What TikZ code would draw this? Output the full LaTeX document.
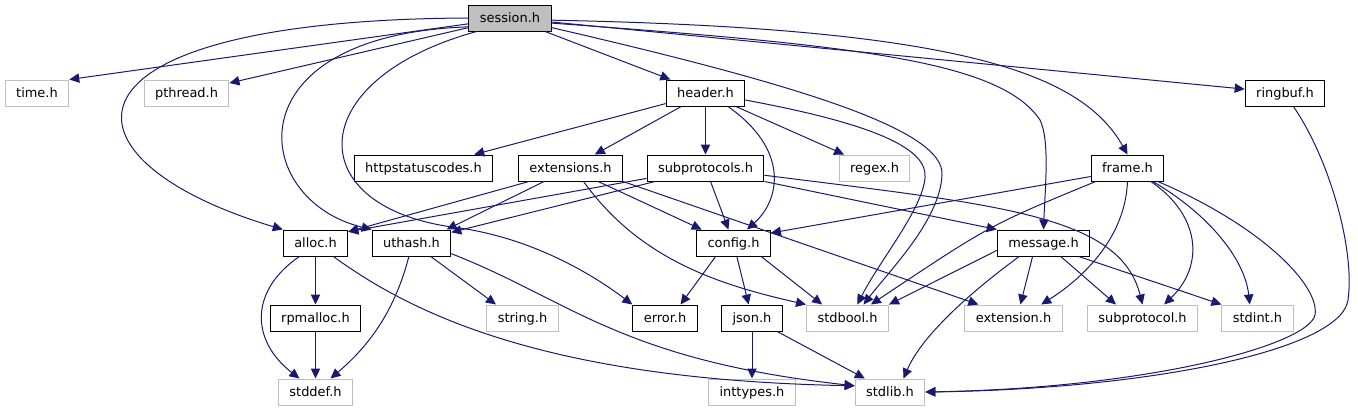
\documentclass[tikz,border=0pt]{standalone}
\usepackage{fontspec}
\setmainfont{DejaVu Sans}
\usetikzlibrary{arrows.meta}
\definecolor{edgeblue}{RGB}{25,25,112}
\definecolor{extgray}{RGB}{191,191,191}

\begin{document}
\begin{tikzpicture}[x=0.75pt, y=-0.75pt,
    file/.style={draw=black, line width=0.75pt, inner xsep=8.25pt, inner ysep=0pt,
      minimum height=19.5pt, text height=7.5pt, text depth=1.5pt,
      font=\fontsize{9.7}{11}\selectfont},
    sysfile/.style={file, draw=extgray},
    root/.style={file, fill=extgray},
    dep/.style={edgeblue, line width=0.75pt, -{Triangle[length=7.5pt,width=7pt]}}]
  \useasboundingbox (0,0) rectangle (1358,411);
  % Top
  \node[root] (session) at (510,18) {session.h};
  % Second row
  \node[sysfile] (time) at (37,93) {time.h};
  \node[sysfile] (pthread) at (186.5,93) {pthread.h};
  \node[file] (header) at (705.5,93) {header.h};
  \node[file] (ringbuf) at (1285,93) {ringbuf.h};
  % Third row
  \node[file] (httpstatus) at (423.5,168) {httpstatuscodes.h};
  \node[file] (extensions) at (570.5,168) {extensions.h};
  \node[file] (subprotocols) at (705.5,168) {subprotocols.h};
  \node[sysfile] (regex) at (874.5,168) {regex.h};
  \node[file] (frame) at (1127.5,168) {frame.h};
  % Fourth row
  \node[file] (alloc) at (315.5,243) {alloc.h};
  \node[file] (uthash) at (411.5,243) {uthash.h};
  \node[file] (config) at (733.5,243) {config.h};
  \node[file] (message) at (1043.5,243) {message.h};
  % Fifth row
  \node[file] (rpmalloc) at (315.5,318) {rpmalloc.h};
  \node[sysfile] (string) at (522.5,318) {string.h};
  \node[file] (error) at (665,318) {error.h};
  \node[file] (json) at (752,318) {json.h};
  \node[sysfile] (stdbool) at (847.5,318) {stdbool.h};
  \node[sysfile] (extension) at (1013.5,318) {extension.h};
  \node[sysfile] (subprotocol) at (1142.5,318) {subprotocol.h};
  \node[sysfile] (stdint) at (1257.5,318) {stdint.h};
  % Bottom
  \node[sysfile] (stddef) at (315.5,392) {stddef.h};
  \node[sysfile] (inttypes) at (752,392) {inttypes.h};
  \node[sysfile] (stdlib) at (890,392) {stdlib.h};

  % session.h includes
  \draw[dep] (session) -- (time.north east);
  \draw[dep] (session) -- (pthread);
  \draw[dep] (session.west) .. controls (40,20) and (50,160) .. (alloc.north west);
  \draw[dep] (session.192) .. controls (230,35) and (250,200) .. (uthash.north west);
  \draw[dep] (session.202) .. controls (300,80) and (300,210) .. (460,228)
    .. controls (540,240) and (600,280) .. (error.north west);
  \draw[dep] (session) -- (header);
  \draw[dep] (session.-13) .. controls (800,85) and (945,130) .. (942,175)
    .. controls (940,220) and (890,270) .. (stdbool.40);
  \draw[dep] (session.-7) .. controls (850,45) and (1000,60) .. (1040,120)
    .. controls (1050,140) and (1045,190) .. (message.north);
  \draw[dep] (session.-3) .. controls (950,28) and (1080,70) .. (frame.north);
  \draw[dep] (session) -- (ringbuf);

  % header.h includes
  \draw[dep] (header) -- (httpstatus);
  \draw[dep] (header) -- (extensions);
  \draw[dep] (header) -- (subprotocols);
  \draw[dep] (header) -- (regex);
  \draw[dep] (header.-31) .. controls (790,150) and (780,200) .. (config.45);
  \draw[dep] (header.-10) .. controls (880,125) and (928,150) .. (925,178)
    .. controls (922,210) and (880,260) .. (stdbool.54);

  % extensions.h / subprotocols.h
  \draw[dep] (extensions.198) -- (alloc.19);
  \draw[dep] (extensions.207) -- (uthash.21);
  \draw[dep] (extensions.-46) .. controls (640,260) and (720,285) .. (stdbool.north west);
  \draw[dep] (extensions.-26) -- (config.157);
  \draw[dep] (extensions.south east) -- (extension.159);
  \draw[dep] (subprotocols.190) -- (alloc.19);
  \draw[dep] (subprotocols.195) -- (uthash.15);
  \draw[dep] (subprotocols) -- (config);
  \draw[dep] (subprotocols.south east) -- (message.north west);
  \draw[dep] (subprotocols.-7) .. controls (1000,205) and (1120,215) .. (subprotocol.north);

  % frame.h / ringbuf.h
  \draw[dep] (frame.193) -- (config.15);
  \draw[dep] (frame.203) .. controls (990,225) .. (stdbool.30);
  \draw[dep] (frame.south) .. controls (1125,240) and (1080,280) .. (extension.26);
  \draw[dep] (frame.-30) .. controls (1200,215) and (1205,265) .. (subprotocol.32);
  \draw[dep] (frame.-28) .. controls (1210,215) and (1245,260) .. (stdint.120);
  \draw[dep] (frame.-24) .. controls (1260,225) and (1320,285) .. (1315,315)
    .. controls (1308,345) and (1150,388) .. (stdlib.east);
  \draw[dep] (ringbuf.-58) .. controls (1330,160) and (1355,250) .. (1348,300)
    .. controls (1341,350) and (1150,389) .. (stdlib.east);

  % message.h
  \draw[dep] (message.189) -- (stdbool.18);
  \draw[dep] (message.231) -- (extension.63);
  \draw[dep] (message.-38) -- (subprotocol.153);
  \draw[dep] (message.-21) -- (stdint.north west);
  \draw[dep] (message.209) .. controls (960,300) and (920,340) .. (stdlib.45);

  % config.h / json.h
  \draw[dep] (config.217) -- (error.41);
  \draw[dep] (config) -- (json);
  \draw[dep] (config.-26) -- (stdbool.152);
  \draw[dep] (json) -- (inttypes);
  \draw[dep] (json) -- (stdlib);

  % alloc.h / uthash.h / rpmalloc.h
  \draw[dep] (alloc) -- (rpmalloc);
  \draw[dep] (alloc.220) .. controls (250,290) and (250,340) .. (stddef.140);
  \draw[dep] (alloc.-37) .. controls (420,320) and (560,380) .. (stdlib.170);
  \draw[dep] (uthash.259) .. controls (395,310) and (370,345) .. (stddef.42);
  \draw[dep] (uthash.-35) -- (string.153);
  \draw[dep] (uthash.-15) .. controls (570,300) and (620,360) .. (stdlib.170);
  \draw[dep] (rpmalloc) -- (stddef);
\end{tikzpicture}
\end{document}
